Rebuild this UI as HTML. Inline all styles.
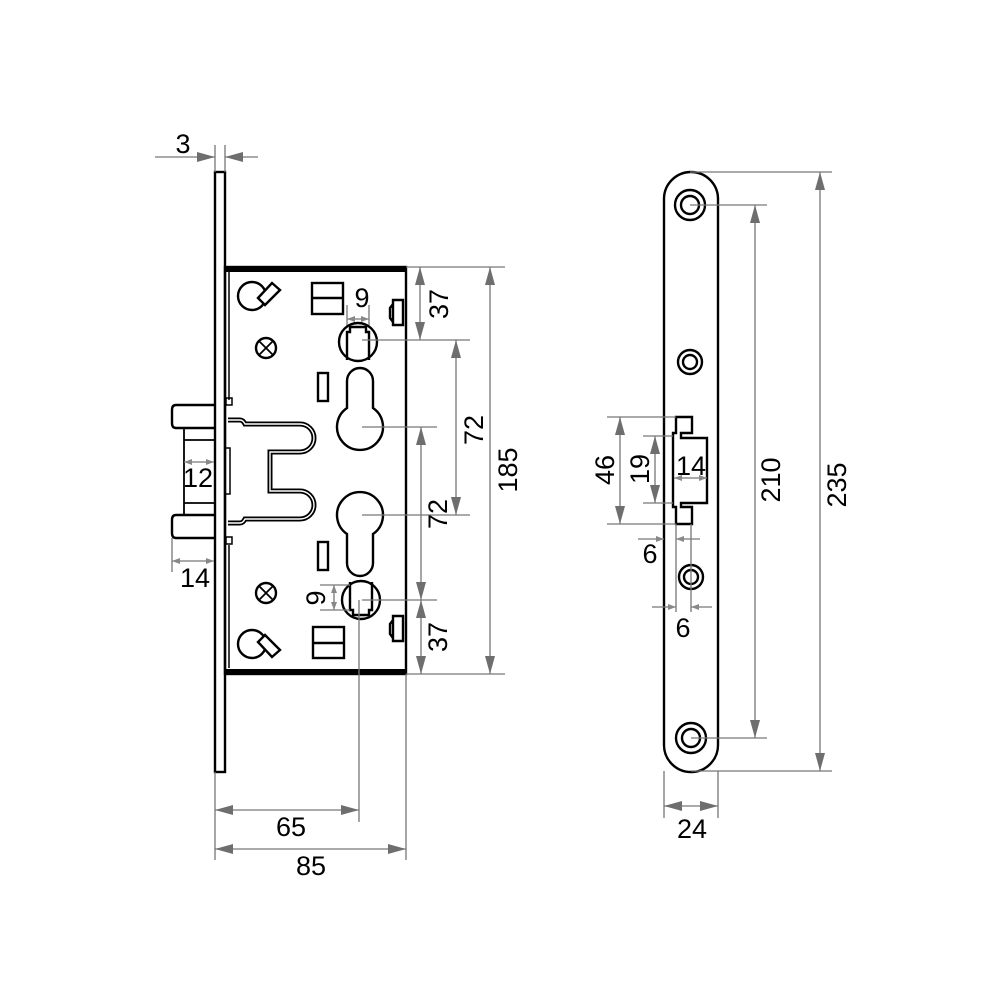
<!DOCTYPE html>
<html><head><meta charset="utf-8"><style>
html,body{margin:0;padding:0;background:#fff;}
svg{display:block}
text{font-family:"Liberation Sans",Arial,sans-serif;font-size:27px;fill:#000;}
</style></head><body>
<svg width="1000" height="1006" viewBox="0 0 1000 1006" xmlns="http://www.w3.org/2000/svg">
<defs>
<marker id="a" viewBox="0 0 18 10" refX="18" refY="5" markerWidth="18" markerHeight="10" markerUnits="userSpaceOnUse" orient="auto-start-reverse"><path d="M0,0 L18,5 L0,10 Z" fill="#6e6e6e"/></marker>
<marker id="s" viewBox="0 0 8 6" refX="8" refY="3" markerWidth="8" markerHeight="6" markerUnits="userSpaceOnUse" orient="auto-start-reverse"><path d="M0,0 L8,3 L0,6 Z" fill="#888"/></marker>
</defs>

<g fill="none" stroke="#000" stroke-width="2.4">
  <rect x="215" y="172" width="10" height="600" fill="#fff"/>
  <rect x="225" y="267" width="181" height="407"/>
  <line x1="225" y1="270" x2="406" y2="270" stroke-width="4"/>
  <line x1="225" y1="671" x2="406" y2="671" stroke-width="4"/>
  <line x1="229" y1="272" x2="229" y2="400" stroke-width="1.5"/>
  <line x1="229" y1="545" x2="229" y2="668" stroke-width="1.5"/>
  <rect x="226" y="398" width="6" height="7" stroke-width="1.5"/>
  <rect x="226" y="537" width="6" height="7" stroke-width="1.5"/>
  <rect x="225" y="448" width="5" height="46" stroke-width="1.5"/>
  <path d="M215,405 H176 Q172,405 172,410 V423 Q172,428 176,428 H215"/>
  <path d="M215,515 H176 Q172,515 172,520 V533 Q172,538 176,538 H215"/>
  <path d="M184,428 V515 M184,440 H215 M184,503 H215" stroke-width="1.8"/>
  <path d="M228,420 H240 Q243,420 245,424 H300 A14,14 0 0 1 300,452 H270 V491 H300 A14,14 0 0 1 300,519 H245 Q243,523 240,523 H228" stroke-width="5"/>
  <path d="M228,420 H240 Q243,420 245,424 H300 A14,14 0 0 1 300,452 H270 V491 H300 A14,14 0 0 1 300,519 H245 Q243,523 240,523 H228" stroke="#fff" stroke-width="1.4"/>
  <circle cx="252" cy="296" r="14" fill="#fff"/>
  <path d="M258,298 L272,283 L280,290 L265,305 Z" fill="#fff"/>
  <circle cx="252" cy="644" r="14" fill="#fff"/>
  <path d="M258,642 L272,657 L280,650 L265,635 Z" fill="#fff"/>
  <circle cx="266" cy="348" r="10"/>
  <path d="M259,341 L273,355 M273,341 L259,355" stroke-width="1.8"/>
  <circle cx="266" cy="593" r="10"/>
  <path d="M259,586 L273,600 M273,586 L259,600" stroke-width="1.8"/>
  <rect x="312" y="283" width="31" height="31"/>
  <line x1="312" y1="298" x2="343" y2="298"/>
  <rect x="313" y="627" width="31" height="31"/>
  <line x1="313" y1="643" x2="344" y2="643"/>
  <rect x="318" y="373" width="10" height="28"/>
  <rect x="318" y="542" width="10" height="28"/>
  <path d="M393,300 H403 V325 H393 Z M393,304 L390,308 V318 L393,322" />
  <path d="M393,616 H403 V641 H393 Z M393,620 L390,624 V634 L393,638" />
  <circle cx="358" cy="342" r="19"/>
  <path d="M347,360 V332 H350 V327 H366 V332 H369 V360"/>
  <circle cx="361" cy="600" r="19"/>
  <path d="M350,582 V610 H353 V615 H369 V610 H372 V582"/>
  <path d="M347,408 A23,23 0 1 0 373,408 V381 A13,13 0 0 0 347,381 Z"/>
  <path d="M347,534 A23,23 0 1 1 373,534 V563 A13,13 0 0 1 347,563 Z"/>
</g>

<g stroke="#777" stroke-width="1.3" fill="none">
  <line x1="215" y1="145" x2="215" y2="172"/>
  <line x1="225" y1="145" x2="225" y2="172"/>
  <line x1="155" y1="157" x2="215" y2="157" marker-end="url(#a)"/>
  <line x1="258" y1="157" x2="225" y2="157" marker-end="url(#a)"/>
  <line x1="406" y1="267" x2="505" y2="267"/>
  <line x1="362" y1="340" x2="470" y2="340"/>
  <line x1="362" y1="427" x2="437" y2="427"/>
  <line x1="362" y1="515" x2="470" y2="515"/>
  <line x1="362" y1="600" x2="437" y2="600"/>
  <line x1="406" y1="674" x2="505" y2="674"/>
  <line x1="420" y1="267" x2="420" y2="340" marker-start="url(#a)" marker-end="url(#a)"/>
  <line x1="456" y1="340" x2="456" y2="515" marker-start="url(#a)" marker-end="url(#a)"/>
  <line x1="421" y1="427" x2="421" y2="600" marker-start="url(#a)" marker-end="url(#a)"/>
  <line x1="421" y1="600" x2="421" y2="674" marker-start="url(#a)" marker-end="url(#a)"/>
  <line x1="490" y1="267" x2="490" y2="674" marker-start="url(#a)" marker-end="url(#a)"/>
  <line x1="347" y1="305" x2="347" y2="325"/>
  <line x1="369" y1="305" x2="369" y2="325"/>
  <line x1="347" y1="319" x2="369" y2="319" marker-start="url(#s)" marker-end="url(#s)"/>
  <line x1="320" y1="585" x2="350" y2="585"/>
  <line x1="320" y1="610" x2="350" y2="610"/>
  <line x1="334" y1="585" x2="334" y2="610" marker-start="url(#s)" marker-end="url(#s)"/>
  <line x1="184" y1="462" x2="214" y2="462" marker-start="url(#s)" marker-end="url(#s)"/>
  <line x1="172" y1="538" x2="172" y2="572"/>
  <line x1="172" y1="561" x2="214" y2="561" marker-start="url(#s)" marker-end="url(#s)"/>
  <line x1="215" y1="772" x2="215" y2="860"/>
  <line x1="359" y1="600" x2="359" y2="822"/>
  <line x1="406" y1="674" x2="406" y2="860"/>
  <line x1="215" y1="810" x2="359" y2="810" marker-start="url(#a)" marker-end="url(#a)"/>
  <line x1="215" y1="849" x2="406" y2="849" marker-start="url(#a)" marker-end="url(#a)"/>
</g>
<g>
  <text x="183" y="153" text-anchor="middle">3</text>
  <text x="362" y="307" text-anchor="middle">9</text>
  <text x="198" y="487" text-anchor="middle">12</text>
  <text x="195" y="587" text-anchor="middle">14</text>
  <text x="291" y="836" text-anchor="middle">65</text>
  <text x="311" y="875" text-anchor="middle">85</text>
  <text transform="translate(448,304) rotate(-90)" text-anchor="middle">37</text>
  <text transform="translate(483,430) rotate(-90)" text-anchor="middle">72</text>
  <text transform="translate(447,514) rotate(-90)" text-anchor="middle">72</text>
  <text transform="translate(447,637) rotate(-90)" text-anchor="middle">37</text>
  <text transform="translate(517,470) rotate(-90)" text-anchor="middle">185</text>
  <text transform="translate(325,598) rotate(-90)" text-anchor="middle">9</text>
</g>

<g fill="none" stroke="#000" stroke-width="2.4">
  <path d="M664,199 A27,27 0 0 1 718,199 V745 A27,27 0 0 1 664,745 Z"/>
  <circle cx="690" cy="205" r="15"/><circle cx="690" cy="205" r="9"/>
  <circle cx="690" cy="362" r="12"/><circle cx="690" cy="362" r="7"/>
  <circle cx="691" cy="577" r="12"/><circle cx="691" cy="577" r="7"/>
  <circle cx="691" cy="738" r="15"/><circle cx="691" cy="738" r="9"/>
  <path d="M676,417 H692 V433 H681 V438 H707 V503 H681 V507 H692 V524 H676 V507 H673 V433 H676 Z"/>
</g>
<g stroke="#777" stroke-width="1.3" fill="none">
  <line x1="690" y1="172" x2="832" y2="172"/>
  <line x1="690" y1="205" x2="767" y2="205"/>
  <line x1="691" y1="738" x2="767" y2="738"/>
  <line x1="691" y1="771" x2="832" y2="771"/>
  <line x1="755" y1="205" x2="755" y2="738" marker-start="url(#a)" marker-end="url(#a)"/>
  <line x1="820" y1="172" x2="820" y2="771" marker-start="url(#a)" marker-end="url(#a)"/>
  <line x1="664" y1="771" x2="664" y2="818"/>
  <line x1="718" y1="771" x2="718" y2="818"/>
  <line x1="664" y1="806" x2="718" y2="806" marker-start="url(#a)" marker-end="url(#a)"/>
  <line x1="607" y1="417" x2="676" y2="417"/>
  <line x1="607" y1="524" x2="676" y2="524"/>
  <line x1="620" y1="417" x2="620" y2="524" marker-start="url(#a)" marker-end="url(#a)"/>
  <line x1="643" y1="436" x2="673" y2="436"/>
  <line x1="643" y1="503" x2="673" y2="503"/>
  <line x1="655" y1="436" x2="655" y2="503" marker-start="url(#a)" marker-end="url(#a)"/>
  <line x1="674" y1="478" x2="707" y2="478" marker-start="url(#s)" marker-end="url(#s)"/>
  <line x1="676" y1="524" x2="676" y2="612"/>
  <line x1="691" y1="524" x2="691" y2="612"/>
  <line x1="638" y1="539" x2="664" y2="539" marker-end="url(#s)"/>
  <line x1="700" y1="539" x2="676" y2="539" marker-end="url(#s)"/>
  <line x1="652" y1="607" x2="676" y2="607" marker-end="url(#s)"/>
  <line x1="712" y1="607" x2="691" y2="607" marker-end="url(#s)"/>
</g>
<g>
  <text x="691" y="475" text-anchor="middle">14</text>
  <text x="650" y="563" text-anchor="middle">6</text>
  <text x="683" y="637" text-anchor="middle">6</text>
  <text x="692" y="838" text-anchor="middle">24</text>
  <text transform="translate(614,470) rotate(-90)" text-anchor="middle">46</text>
  <text transform="translate(649,469) rotate(-90)" text-anchor="middle">19</text>
  <text transform="translate(780,480) rotate(-90)" text-anchor="middle">210</text>
  <text transform="translate(846,485) rotate(-90)" text-anchor="middle">235</text>
</g>
</svg>
</body></html>
